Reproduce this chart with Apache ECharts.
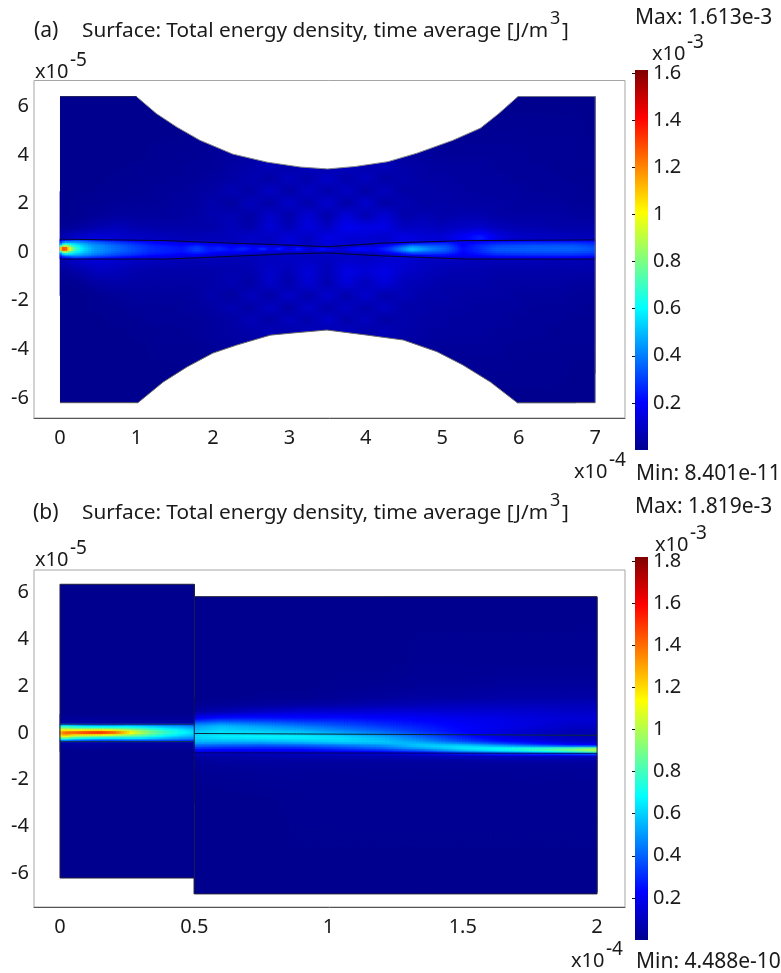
<!DOCTYPE html>
<html><head><meta charset="utf-8">
<style>html,body{margin:0;padding:0;background:#fff}#c{width:781px;height:973px}</style>
<script src="https://cdn.jsdelivr.net/npm/echarts@6/dist/echarts.min.js"></script>
</head><body><div id="c"></div>
<script>
// ---------- colour scale ----------
const jetStops = [[0,'#00008f'],[0.125,'#0000ff'],[0.375,'#00ffff'],[0.625,'#ffff00'],[0.875,'#ff0000'],[1,'#800000']];
// ---------- axes ----------
const maxA = 1.613, maxB = 1.819;
const xTicksA = [0,1,2,3,4,5,6,7];
const xTicksB = [0,0.5,1,1.5,2];
const yTicks = [-6,-4,-2,0,2,4,6];
const barTicksA = [0.2,0.4,0.6,0.8,1,1.2,1.4,1.6];
const barTicksB = [0.2,0.4,0.6,0.8,1,1.2,1.4,1.6,1.8];
// ---------- panel (a) : geometry (x in 1e-4, y in 1e-5) ----------
const arcTopX = [1,1.26,1.53,1.83,2.26,2.71,3.14,3.5,3.86,4.29,4.67,5.14,5.5,5.74,5.99];
const arcTopY = [6.4,5.7,5.14,4.6,4.03,3.7,3.5,3.42,3.52,3.72,4.07,4.6,5.1,5.7,6.4];
const arcBotX = [1.02,1.35,1.66,2,2.31,2.75,3.05,3.49,4.02,4.49,4.93,5.27,5.63,5.98];
const arcBotY = [-6.2,-5.35,-4.73,-4.16,-3.83,-3.42,-3.33,-3.21,-3.42,-3.62,-4.1,-4.65,-5.35,-6.2];
const coreX = [0,1.4,1.92,2.95,3.5,4.23,5.32,7];
const coreTop = [0.53,0.47,0.4,0.29,0.22,0.37,0.47,0.5];
const coreBot = [-0.29,-0.29,-0.22,-0.08,-0.04,-0.16,-0.29,-0.29];
// ---------- panel (a) : field outside the core (units 1e-5 J/m3) ----------
const outerAx = [0,.25,.5,.75,1,1.25,1.5,1.75,2,2.25,2.5,2.75,3,3.25,3.5,3.75,4,4.25,4.5,4.75,5,5.25,5.5,5.75,6,6.25,6.5,6.75,7];
const outerAy = [6.4,5,4,3.5,3,2.5,2,1.5,1,.6,-.3,-.8,-1.3,-1.8,-2.3,-2.8,-3.3,-4,-5,-6.2];
const outerA = [
[0,0,0,0,0,0,0,0,0,0,0,0,0,0,0,0,0,0,0,0,0,0,0,0,0,0,0,0,0],
[0,0,0,0,0,0,0,1,1,2,2,2,2,2,2,2,2,2,2,2,1,1,1,1,1,1,1,1,0],
[0,0,0,0,0,1,1,1,2,3,4,4,5,5,4,5,4,4,3,3,2,2,2,2,2,1,1,1,1],
[0,0,0,0,1,1,1,2,2,4,5,8,5,9,5,9,6,8,5,4,3,3,3,2,2,2,1,1,1],
[0,0,0,1,1,1,2,2,3,4,7,4,9,5,11,5,9,4,6,4,4,3,3,3,2,2,2,1,1],
[0,0,1,1,1,2,2,3,4,7,4,10,4,10,5,10,4,9,4,5,4,4,3,3,3,2,2,2,1],
[0,1,1,2,2,2,3,3,6,3,9,4,11,5,12,4,12,4,7,4,5,4,4,4,3,3,3,2,2],
[0,1,2,3,3,3,3,4,6,7,4,11,5,13,5,14,6,13,5,7,5,6,6,4,4,4,4,3,3],
[1,3,6,8,6,5,5,5,5,8,5,13,7,15,9,18,16,16,9,10,8,10,11,8,6,6,5,5,5],
[6,12,14,12,10,9,8,7,8,8,11,9,14,9,16,13,13,11,16,13,13,19,26,15,11,10,9,8,8],
[6,12,14,12,10,9,8,7,8,7,8,9,10,10,9,11,10,12,13,10,9,9,8,8,8,8,7,7,7],
[2,5,9,8,6,5,5,5,5,6,6,11,7,14,7,16,13,16,11,9,7,6,6,5,5,5,5,5,5],
[0,1,4,5,4,4,4,4,5,7,4,11,5,13,6,14,8,14,8,7,5,5,5,4,4,4,4,3,3],
[0,0,1,2,3,3,3,3,6,3,9,4,11,5,12,5,12,5,8,5,5,4,4,4,3,3,3,2,2],
[0,0,1,1,2,2,2,3,4,7,4,10,4,11,5,10,5,10,5,5,4,4,3,3,3,2,2,2,1],
[0,0,0,1,1,2,2,2,3,4,8,4,9,5,11,5,9,4,6,4,4,3,3,3,2,2,2,1,1],
[0,0,0,0,1,1,1,2,3,4,5,8,5,9,6,9,5,8,5,4,3,3,3,2,2,2,1,1,1],
[0,0,0,0,0,1,1,1,2,3,4,4,5,5,5,5,5,4,3,3,2,2,2,2,1,1,1,1,1],
[0,0,0,0,0,0,0,1,1,2,2,2,2,2,2,2,2,2,2,2,1,1,1,1,1,1,1,0,0],
[0,0,0,0,0,0,0,0,0,0,0,0,0,0,0,0,0,0,0,0,0,0,0,0,0,0,0,0,0]];
// ---------- panel (a) : field in the core, rows from top edge to bottom edge ----------
const coreAx = [0,.03,.065,.1,.15,.2,.3,.45,.75,1.2,1.6,1.8,1.95,2.1,2.25,2.4,2.55,2.66,2.77,2.88,3,3.12,3.27,3.43,3.66,3.9,4.1,4.32,4.6,4.85,5.06,5.27,5.45,5.7,6.2,6.7,7];
const coreAf = [0,.12,.3,.5,.7,.88,1];
const coreA = [
[12,14,16,16,18,20,20,18,16,12,10,14,12,12,10,12,10,10,8,10,8,10,8,8,8,8,8,10,14,16,16,14,12,14,15,15,14],
[20,26,34,34,38,40,38,34,28,20,16,20,16,18,14,16,13,14,11,13,10,12,9,10,9,10,10,16,26,26,25,18,20,24,25,25,24],
[40,55,80,70,66,60,52,44,36,26,22,28,23,24,20,24,18,22,15,20,13,18,11,16,11,16,16,25,42,36,33,20,26,31,34,34,30],
[120,140,158,130,95,75,58,46,38,27,24,32,24,27,22,27,20,30,17,30,16,33,14,30,14,28,20,30,55,42,36,22,26,35,36,37,34],
[40,55,80,70,66,60,52,44,35,26,22,26,23,20,21,20,18,18,15,16,13,15,11,15,11,15,15,24,38,33,29,20,24,30,32,32,30],
[20,26,34,34,38,40,38,34,27,19,16,18,16,14,14,13,13,11,11,10,10,10,9,10,9,10,10,15,22,22,20,16,18,22,24,24,22],
[12,14,16,16,18,20,20,18,15,11,10,12,10,12,10,10,10,8,8,8,8,8,8,8,8,8,8,10,12,12,12,10,10,12,13,13,12]];
// ---------- panel (b) : left section ----------
const outerBLx = [0,.1,.25,.4,.5];
const outerBLy = [.8,.45,.38,-.37,-.45,-.8];
const outerBL = [
[0,0,0,0,0],[4,5,4,4,4],[12,12,10,10,10],[12,12,10,10,10],[4,5,4,4,4],[0,0,0,0,0]];
const coreBx = [0,.02,.05,.1,.15,.2,.25,.3,.35,.4,.45,.5];
const coreBy = [.38,.28,.14,.01,-.13,-.27,-.37];
const coreB = [
[30,35,35,30,28,28,30,30,30,30,30,28],
[70,72,66,60,58,58,60,58,55,52,50,46],
[105,105,100,100,100,96,92,86,78,70,64,58],
[130,145,150,160,165,155,130,105,90,80,72,64],
[115,125,110,105,100,95,90,85,76,68,62,57],
[70,76,66,60,56,56,58,58,55,52,48,46],
[30,32,30,28,26,26,28,28,28,28,28,25]];
// ---------- panel (b) : right section ----------
const rightBx = [.5,.6,.75,.9,1.05,1.2,1.35,1.5,1.65,1.8,1.9,2];
const rightBy = [5.8,3,2,1.5,1.2,.9,.6,.3,.03,-.2,-.4,-.55,-.7,-.85,-1,-1.3,-1.8,-3,-6.8];
const rightB = [
[0,0,0,0,0,0,0,0,0,0,0,0],
[0,0,0,0,0,0,1,1,1,1,1,1],
[0,0,0,0,1,1,2,2,3,3,3,3],
[0,0,1,1,2,3,4,4,5,5,5,5],
[1,2,3,4,5,7,8,9,9,9,9,9],
[4,7,11,14,14,15,15,14,14,13,12,12],
[22,28,28,26,26,24,22,20,18,16,15,15],
[50,56,50,44,38,32,27,22,19,15,12,12],
[60,64,62,58,50,42,32,24,16,11,8,8],
[62,66,68,68,64,56,42,28,18,12,9,8],
[56,55,55,58,62,60,52,38,26,18,14,12],
[42,40,38,40,44,50,62,62,50,36,28,24],
[28,26,25,26,32,38,50,66,76,88,98,110],
[16,14,14,14,16,20,26,40,50,60,68,80],
[5,5,6,7,7,7,8,9,10,10,10,9],
[2,3,3,3,3,3,3,3,3,3,3,3],
[1,1,2,2,2,2,2,2,2,2,2,2],
[0,0,0,1,1,1,1,1,1,1,1,1],
[0,0,0,0,0,0,0,0,0,0,0,0]];
const lineBx = [.5,2];
const slabTopB = [-.02,-.1];
const slabBotB = [-.85,-.87];

// ---------- helpers ----------
const FONT = '"Noto Sans", sans-serif';
const rgbStops = jetStops.map(s => [s[0], parseInt(s[1].slice(1,3),16), parseInt(s[1].slice(3,5),16), parseInt(s[1].slice(5,7),16)]);
function jet(t){
  t = Math.max(0,Math.min(1,t));
  for(let i=1;i<rgbStops.length;i++){
    if(t<=rgbStops[i][0]){
      const a=rgbStops[i-1],b=rgbStops[i],f=(t-a[0])/(b[0]-a[0]);
      return 'rgb('+Math.round(a[1]+f*(b[1]-a[1]))+','+Math.round(a[2]+f*(b[2]-a[2]))+','+Math.round(a[3]+f*(b[3]-a[3]))+')';
    }
  }
  return jetStops[5][1];
}
function lerpAt(xs,ys,x){
  for(let i=1;i<xs.length;i++){ if(x<=xs[i]) return ys[i-1]+(x-xs[i-1])/(xs[i]-xs[i-1])*(ys[i]-ys[i-1]); }
  return ys[ys.length-1];
}
// mesh series: yAt(row,x) gives a row's y position at x
function mesh(X,rows,V,yAt,maxV,gi,z){
  const data=[];
  for(let j=0;j<rows-1;j++) for(let i=0;i<X.length-1;i++){
    if(V[j][i]+V[j][i+1]+V[j+1][i]+V[j+1][i+1]>0) data.push([(X[i]+X[i+1])/2,yAt(j,X[i]),i,j]);
  }
  return {type:'custom',coordinateSystem:'cartesian2d',xAxisIndex:gi,yAxisIndex:gi,z:z,silent:true,progressive:0,animation:false,
    encode:{x:0,y:1},data:data,clip:true,
    renderItem(p,api){
      const i=api.value(2),j=api.value(3),x0=X[i],x1=X[i+1];
      const pa=api.coord([x0,yAt(j,x0)]),pb=api.coord([x1,yAt(j,x1)]),pc=api.coord([x0,yAt(j+1,x0)]);
      const nx=Math.max(1,Math.ceil(Math.abs(pb[0]-pa[0])/3)),ny=Math.max(1,Math.ceil(Math.abs(pc[1]-pa[1])/2));
      const kids=[];
      const v00=V[j][i],v10=V[j][i+1],v01=V[j+1][i],v11=V[j+1][i+1];
      for(let s=0;s<nx;s++){
        const xa=x0+(x1-x0)*s/nx,xb=x0+(x1-x0)*(s+1)/nx,um=(s+.5)/nx;
        const ta=yAt(j,xa),tb=yAt(j,xb),ba=yAt(j+1,xa),bb=yAt(j+1,xb);
        for(let r=0;r<ny;r++){
          const w0=r/ny,w1=(r+1)/ny,wm=(r+.5)/ny;
          const v=(v00*(1-um)+v10*um)*(1-wm)+(v01*(1-um)+v11*um)*wm;
          const col=jet(v/100/maxV);
          kids.push({type:'polygon',shape:{points:[
            api.coord([xa,ta+(ba-ta)*w0]),api.coord([xb,tb+(bb-tb)*w0]),
            api.coord([xb,tb+(bb-tb)*w1]),api.coord([xa,ta+(ba-ta)*w1])]},
            style:{fill:col,stroke:col,lineWidth:.7}});
        }
      }
      return {type:'group',children:kids};
    }};
}
function poly(points,fill,gi,z){
  return {type:'custom',coordinateSystem:'cartesian2d',xAxisIndex:gi,yAxisIndex:gi,z:z,silent:true,animation:false,clip:true,
    encode:{x:0,y:1},data:points,
    renderItem(p,api){
      if(p.dataIndex!==0) return null;
      return {type:'polygon',shape:{points:points.map(q=>api.coord(q))},style:{fill:fill}};
    }};
}
function line(xs,ys,color,gi,z,w){
  return {type:'line',xAxisIndex:gi,yAxisIndex:gi,data:xs.map((x,i)=>[x,ys[i]]),showSymbol:false,symbol:'none',silent:true,animation:false,z:z,
    lineStyle:{color:color,width:w||1}};
}
function colorBar(maxV,gi){
  return {type:'custom',coordinateSystem:'cartesian2d',xAxisIndex:gi,yAxisIndex:gi,z:2,silent:true,animation:false,
    encode:{x:0,y:1},data:[[0,maxV]],
    renderItem(p,api){
      const a=api.coord([0,maxV]),b=api.coord([1,0]);
      return {type:'rect',shape:{x:a[0],y:a[1],width:b[0]-a[0],height:b[1]-a[1]},
        style:{fill:new echarts.graphic.LinearGradient(0,1,0,0,jetStops.map(s=>({offset:s[0],color:s[1]})))}};
    }};
}
function t(x,y,text,size,extra){
  return Object.assign({type:'text',x:x,y:y,z:50,silent:true,style:{text:text,fill:'#1a1a1a',font:(size||18)+'px '+FONT,textVerticalAlign:'middle',textAlign:'left'}},extra||{});
}
function xPow(x,y,pow){ return [t(x,y,'x10',20),t(x+35,y-11,pow,19)]; }
function plotGrid(top,h){return {left:34,top:top,width:591,height:h,show:true,borderColor:'#a5a5a5',borderWidth:1,backgroundColor:'#fff'};}
function barGrid(top,h){return {left:635,top:top,width:13,height:h,show:false};}
const lab={color:'#1a1a1a',fontSize:20,fontFamily:FONT};
function xA(min,max,ticks,gi){return {type:'value',gridIndex:gi,min:min,max:max,splitLine:{show:false},axisTick:{show:false},
  axisLine:{show:true,onZero:false,lineStyle:{color:'#555',width:1}},axisLabel:Object.assign({customValues:ticks,margin:10},lab)};}
function yA(min,max,gi){return {type:'value',gridIndex:gi,min:min,max:max,splitLine:{show:false},axisTick:{show:false},
  axisLine:{show:false},axisLabel:Object.assign({customValues:yTicks,margin:5},lab)};}
function xBar(gi){return {type:'value',gridIndex:gi,min:0,max:1,show:false};}
function yBar(maxV,ticks,gi){return {type:'value',gridIndex:gi,min:0,max:maxV,position:'right',splitLine:{show:false},
  axisLine:{show:false},axisTick:{show:true,inside:true,length:3,customValues:ticks,lineStyle:{color:'#111',width:1}},
  axisLabel:Object.assign({customValues:ticks,margin:5},lab)};}

const series=[
  // panel (a)
  poly([[0,-6.2],[7,-6.2],[7,6.4],[0,6.4]],jet(0),0,1),
  mesh(outerAx,outerAy.length,outerA,(j)=>outerAy[j],maxA,0,2),
  mesh(coreAx,coreAf.length,coreA,(j,x)=>{const a=lerpAt(coreX,coreTop,x),b=lerpAt(coreX,coreBot,x);return a+(b-a)*coreAf[j];},maxA,0,3),
  poly(arcTopX.map((x,i)=>[x,arcTopY[i]]).concat([[5.99,6.6],[1,6.6]]),'#fff',0,4),
  poly(arcBotX.map((x,i)=>[x,arcBotY[i]]).concat([[5.98,-6.4],[1.02,-6.4]]),'#fff',0,4),
  line(arcTopX,arcTopY,'#8a8a8a',0,5),
  line(arcBotX,arcBotY,'#6a6a6a',0,5),
  line(coreX,coreTop,'#050530',0,5),
  line(coreX,coreBot,'#050530',0,5),
  line([0,1],[6.4,6.4],'#20205a',0,5),
  line([5.99,7,7],[6.4,6.4,-6.2],'#6f7388',0,5),
  line([0,1.02],[-6.2,-6.2],'#555',0,5),
  line([5.98,7],[-6.2,-6.2],'#555',0,5),
  // panel (b)
  poly([[0,-6.2],[.5,-6.2],[.5,6.36],[0,6.36]],jet(0),1,1),
  poly([[.5,-6.88],[2,-6.88],[2,5.83],[.5,5.83]],jet(0),1,1),
  mesh(outerBLx,outerBLy.length,outerBL,(j)=>outerBLy[j],maxB,1,2),
  mesh(coreBx,coreBy.length,coreB,(j)=>coreBy[j],maxB,1,3),
  mesh(rightBx,rightBy.length,rightB,(j)=>rightBy[j],maxB,1,3),
  line([0,.5,.5,2,2,.5,.5,0,0],[6.36,6.36,5.83,5.83,-6.88,-6.88,-6.2,-6.2,6.36],'#20203a',1,5),
  line([.5,.5],[-6.88,6.36],'#10104a',1,5),
  line([0,.5],[.38,.38],'#103040',1,5),
  line([0,.5],[-.37,-.37],'#103040',1,5),
  line(lineBx,slabTopB,'#0a2a3a',1,5),
  line(lineBx,slabBotB,'#000060',1,5),
  // colour bars
  colorBar(maxA,2),
  colorBar(maxB,3)
];

const graphic=[
  t(34,31,'(a)',21),t(82,31,'Surface: Total energy density, time average [J/m',20.8),t(550,19,'3',18),t(562,31,']',20.8),
  t(635,18,'Max: 1.613e-3',21),t(636,474,'Min: 8.401e-11',21),
  ...xPow(35,72,'-5'),...xPow(652,54,'-3'),...xPow(574,472,'-4'),
  t(33,513,'(b)',21),t(82,513,'Surface: Total energy density, time average [J/m',20.8),t(550,501,'3',18),t(562,513,']',20.8),
  t(635,507,'Max: 1.819e-3',21),t(636,962,'Min: 4.488e-10',21),
  ...xPow(35,560,'-5'),...xPow(655,545,'-3'),...xPow(571,961,'-4')
];

const chart=echarts.init(document.getElementById('c'),null,{renderer:'canvas',width:781,height:973});
chart.setOption({
  animation:false,backgroundColor:'#fff',
  grid:[plotGrid(80.5,337.5),plotGrid(570,337),barGrid(70,380),barGrid(557,383)],
  xAxis:[xA(-0.34,7.39,xTicksA,0),xA(-0.0968,2.104,xTicksB,1),xBar(2),xBar(3)],
  yAxis:[yA(-6.83,7.06,0),yA(-7.44,6.97,1),yBar(maxA,barTicksA,2),yBar(maxB,barTicksB,3)],
  series:series,
  graphic:{elements:graphic}
});
</script></body></html>
